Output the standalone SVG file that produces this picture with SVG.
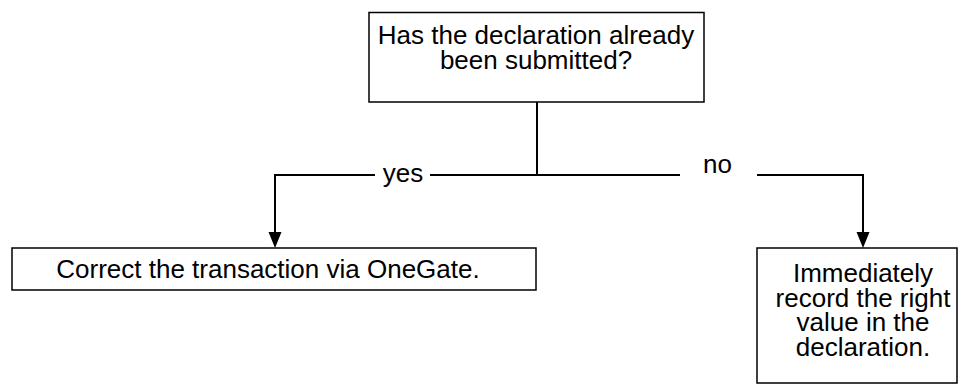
<svg xmlns="http://www.w3.org/2000/svg" width="959" height="385" viewBox="0 0 959 385">
  <style>
    .box { fill: #ffffff; stroke: #000000; stroke-width: 1.5; }
    .lbl { font-family: "Liberation Sans", Arial, Helvetica, sans-serif; font-size: 26px; fill: #000000; text-anchor: middle; }
    .edge { fill: none; stroke: #000000; stroke-width: 2; }
    .head { fill: #000000; stroke: none; }
  </style>
  <rect x="0" y="0" width="959" height="385" fill="#ffffff"/>

  <!-- question -->
  <g id="question">
    <rect class="box" x="369" y="12.5" width="335" height="89.5"/>
    <text class="lbl" x="536" y="44">Has the declaration already</text>
    <text class="lbl" x="536" y="68.5">been submitted?</text>
  </g>

  <!-- yes branch target -->
  <g id="correct">
    <rect class="box" x="12" y="248" width="524" height="42"/>
    <text class="lbl" x="268" y="278">Correct the transaction via OneGate.</text>
  </g>

  <!-- no branch target -->
  <g id="record">
    <rect class="box" x="757" y="248" width="200" height="135"/>
    <text class="lbl" x="863" y="282">Immediately</text>
    <text class="lbl" x="863" y="306.5">record the right</text>
    <text class="lbl" x="863" y="331">value in the</text>
    <text class="lbl" x="863" y="355.5">declaration.</text>
  </g>

  <!-- connectors -->
  <g id="connectors">
    <line class="edge" x1="537" y1="102" x2="537" y2="175"/>
    <!-- yes -->
    <path class="edge" d="M375,175 H275 V234"/>
    <line class="edge" x1="430" y1="175" x2="680" y2="175"/>
    <polygon class="head" points="268.5,232 281.5,232 275,248"/>
    <text class="lbl" x="403" y="182">yes</text>
    <!-- no -->
    <path class="edge" d="M757,175 H863 V234"/>
    <polygon class="head" points="856.5,232 869.5,232 863,248"/>
    <text class="lbl" x="717.5" y="172.5">no</text>
  </g>
</svg>
